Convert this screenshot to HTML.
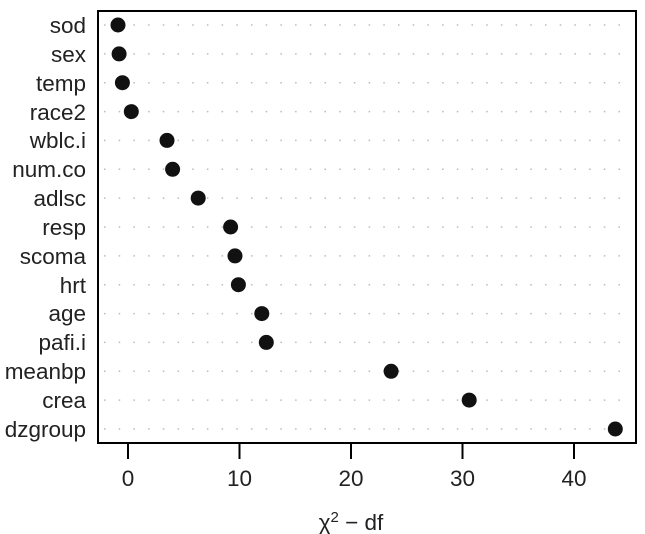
<!DOCTYPE html>
<html><head><style>body{margin:0;background:#fff}svg{display:block}text{font-family:"Liberation Sans",sans-serif;font-size:22.5px;fill:#222}</style></head><body>
<svg width="645" height="534" xmlns="http://www.w3.org/2000/svg">
<g stroke="#bbb" stroke-width="1.5" stroke-dasharray="1.5 13.2">
<line x1="104" y1="25" x2="632" y2="25"/><line x1="104" y1="53.9" x2="632" y2="53.9"/><line x1="104" y1="82.7" x2="632" y2="82.7"/><line x1="104" y1="111.6" x2="632" y2="111.6"/><line x1="104" y1="140.4" x2="632" y2="140.4"/><line x1="104" y1="169.3" x2="632" y2="169.3"/><line x1="104" y1="198.1" x2="632" y2="198.1"/><line x1="104" y1="227" x2="632" y2="227"/><line x1="104" y1="255.9" x2="632" y2="255.9"/><line x1="104" y1="284.7" x2="632" y2="284.7"/><line x1="104" y1="313.6" x2="632" y2="313.6"/><line x1="104" y1="342.4" x2="632" y2="342.4"/><line x1="104" y1="371.3" x2="632" y2="371.3"/><line x1="104" y1="400.1" x2="632" y2="400.1"/><line x1="104" y1="429" x2="632" y2="429"/>
</g>
<g text-anchor="end">
<text x="86" y="33">sod</text><text x="86" y="62">sex</text><text x="86" y="91">temp</text><text x="86" y="120">race2</text><text x="86" y="148">wblc.i</text><text x="86" y="177">num.co</text><text x="86" y="206">adlsc</text><text x="86" y="235">resp</text><text x="86" y="264">scoma</text><text x="86" y="293">hrt</text><text x="86" y="321">age</text><text x="86" y="350">pafi.i</text><text x="86" y="379">meanbp</text><text x="86" y="408">crea</text><text x="86" y="437">dzgroup</text>
</g>
<g fill="#111">
<circle cx="118" cy="25" r="7.5"/><circle cx="119.1" cy="53.9" r="7.5"/><circle cx="122.4" cy="82.7" r="7.5"/><circle cx="131.3" cy="111.6" r="7.5"/><circle cx="167" cy="140.4" r="7.5"/><circle cx="172.6" cy="169.3" r="7.5"/><circle cx="198.2" cy="198.1" r="7.5"/><circle cx="230.6" cy="227" r="7.5"/><circle cx="235" cy="255.9" r="7.5"/><circle cx="238.4" cy="284.7" r="7.5"/><circle cx="261.8" cy="313.6" r="7.5"/><circle cx="266.3" cy="342.4" r="7.5"/><circle cx="391.1" cy="371.3" r="7.5"/><circle cx="469.2" cy="400.1" r="7.5"/><circle cx="615.3" cy="429" r="7.5"/>
</g>
<rect x="98" y="11" width="538" height="432" fill="none" stroke="#000" stroke-width="2"/>
<g stroke="#000" stroke-width="2">
<line x1="128" y1="443" x2="128" y2="459"/><line x1="239.5" y1="443" x2="239.5" y2="459"/><line x1="351" y1="443" x2="351" y2="459"/><line x1="462.5" y1="443" x2="462.5" y2="459"/><line x1="574" y1="443" x2="574" y2="459"/>
</g>
<g text-anchor="middle">
<text x="128" y="486">0</text><text x="239.5" y="486">10</text><text x="351" y="486">20</text><text x="462.5" y="486">30</text><text x="574" y="486">40</text>
<text x="351" y="530">χ<tspan dy="-8" style="font-size:15px">2</tspan><tspan dy="8"> − df</tspan></text>
</g>
</svg>
</body></html>
